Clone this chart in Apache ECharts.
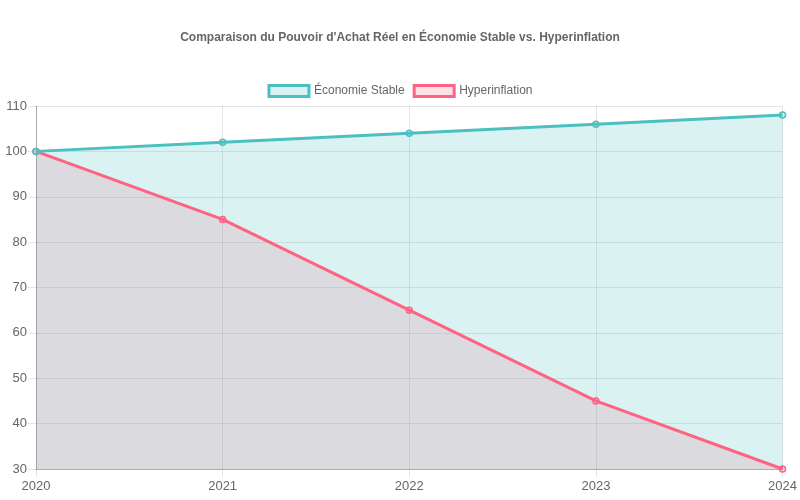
<!DOCTYPE html>
<html style="height: 100%">
<head>
    <meta charset="utf-8">
</head>
<body style="width:800px;height:500px;margin:0">
<div id="container" style="width:800px;height:500px;"></div>
<script type="text/javascript" src="https://cdn.jsdelivr.net/npm/echarts@6/dist/echarts.min.js"></script>
<script type="text/javascript">
var years = ['2020', '2021', '2022', '2023', '2024'];
var stable = [100, 102, 104, 106, 108];
var hyper = [100, 85, 65, 45, 30];

var font = '"Liberation Sans", Arial, Helvetica, sans-serif';
var myChart = echarts.init(document.getElementById('container'));

// hyperinflation is listed first so the teal fill lies over it (as in the original)
var option = {
    animation: false,
    textStyle: { fontFamily: font },
    title: {
        text: "Comparaison du Pouvoir d'Achat Réel en Économie Stable vs. Hyperinflation",
        left: 'center',
        top: 27,
        textStyle: { fontSize: 12, fontWeight: 'bold', color: '#666', fontFamily: font }
    },
    legend: {
        top: 79,
        left: 'center',
        itemWidth: 40,
        itemHeight: 11,
        itemGap: 8,
        icon: 'rect',
        textStyle: { fontSize: 12, color: '#666', fontFamily: font },
        data: [
            { name: 'Économie Stable', itemStyle: { color: 'rgba(75,192,192,0.2)', borderColor: 'rgb(75,192,192)', borderWidth: 3 } },
            { name: 'Hyperinflation', itemStyle: { color: 'rgba(255,99,132,0.2)', borderColor: 'rgb(255,99,132)', borderWidth: 3 } }
        ]
    },
    grid: { left: 36, right: 17, top: 106, bottom: 31 },
    xAxis: {
        type: 'category',
        data: years,
        boundaryGap: false,
        axisLine: { lineStyle: { color: 'rgba(0,0,0,0.25)' } },
        axisTick: { show: true, length: 8, alignWithLabel: true, lineStyle: { color: 'rgba(0,0,0,0.1)' } },
        axisLabel: { color: '#666', fontSize: 13, margin: 11, fontFamily: font },
        splitLine: { show: true, lineStyle: { color: 'rgba(0,0,0,0.1)' } }
    },
    yAxis: {
        type: 'value',
        min: 30,
        max: 110,
        interval: 10,
        axisLine: { show: true, lineStyle: { color: 'rgba(0,0,0,0.25)' } },
        axisTick: { show: true, length: 8, lineStyle: { color: 'rgba(0,0,0,0.1)' } },
        axisLabel: { color: '#666', fontSize: 13, margin: 9, fontFamily: font },
        splitLine: { lineStyle: { color: 'rgba(0,0,0,0.1)' } }
    },
    series: [
        {
            name: 'Hyperinflation',
            type: 'line',
            data: hyper,
            symbol: 'circle',
            symbolSize: 6,
            lineStyle: { width: 3, color: 'rgb(255,99,132)' },
            itemStyle: { color: 'rgba(255,99,132,0.2)', borderColor: 'rgb(255,99,132)', borderWidth: 1.5 },
            areaStyle: { color: 'rgba(255,99,132,0.2)', opacity: 1, origin: 'start' }
        },
        {
            name: 'Économie Stable',
            type: 'line',
            data: stable,
            symbol: 'circle',
            symbolSize: 6,
            lineStyle: { width: 3, color: 'rgb(75,192,192)' },
            itemStyle: { color: 'rgba(75,192,192,0.2)', borderColor: 'rgb(75,192,192)', borderWidth: 1.5 },
            areaStyle: { color: 'rgba(75,192,192,0.2)', opacity: 1, origin: 'start' }
        }
    ]
};
myChart.setOption(option, true);
</script>
</body>
</html>
